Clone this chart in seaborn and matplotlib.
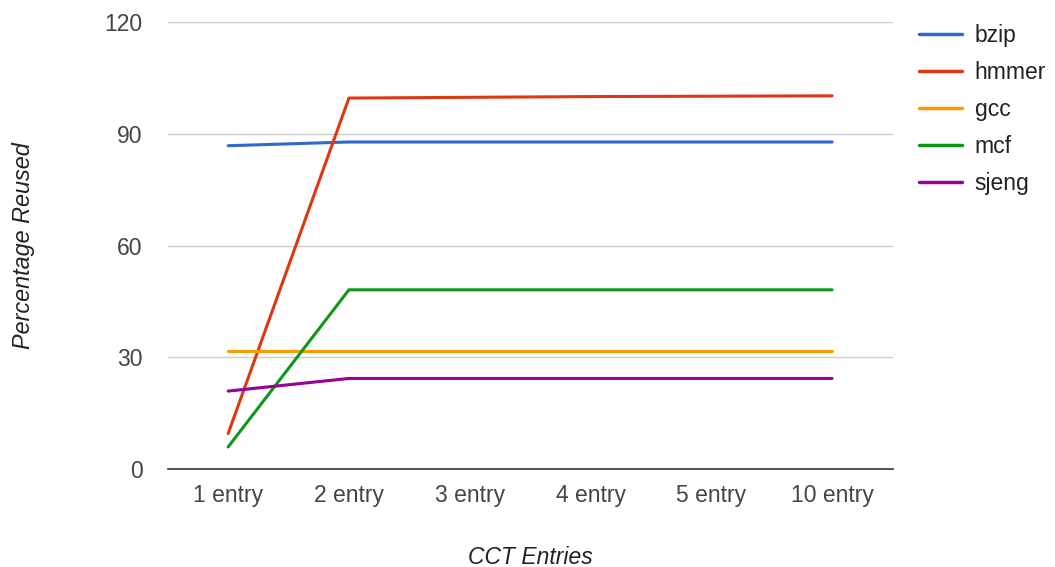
import matplotlib
matplotlib.use("Agg")
import matplotlib.pyplot as plt
from matplotlib.lines import Line2D
import seaborn as sns
import pandas as pd

entries = ["1 entry", "2 entry", "3 entry", "4 entry", "5 entry", "10 entry"]
bzip = [86.8, 87.8, 87.8, 87.8, 87.8, 87.8]
hmmer = [9.5, 99.6, 99.8, 100.0, 100.1, 100.2]
gcc = [31.7, 31.7, 31.7, 31.7, 31.7, 31.7]
mcf = [5.9, 48.1, 48.1, 48.1, 48.1, 48.1]
sjeng = [20.9, 24.3, 24.3, 24.3, 24.3, 24.3]

series = {"bzip": bzip, "hmmer": hmmer, "gcc": gcc, "mcf": mcf, "sjeng": sjeng}
colors = {"bzip": "#3366cc", "hmmer": "#dc3912", "gcc": "#ff9900",
          "mcf": "#109618", "sjeng": "#990099"}

rows = []
for name, vals in series.items():
    for e, v in zip(entries, vals):
        rows.append({"entry": e, "value": v, "benchmark": name})
df = pd.DataFrame(rows)

sns.set_style("white")
plt.rcParams["font.family"] = ["Liberation Sans", "DejaVu Sans"]

FS = 16.5

fig = plt.figure(figsize=(10.55, 5.67), dpi=100)
ax = fig.add_axes([0.159, 0.173, 0.687, 0.788])

sns.lineplot(data=df, x="entry", y="value", hue="benchmark", palette=colors,
             linewidth=2.2, sort=False, legend=False, ax=ax)

ax.set_xlim(-0.5, len(entries) - 0.5)
ax.set_ylim(0, 120)
ax.set_yticks([0, 30, 60, 90, 120])
ax.grid(axis="y", color="#cccccc", linewidth=1)
ax.grid(axis="x", visible=False)
ax.set_axisbelow(True)
for s in ["top", "right", "left"]:
    ax.spines[s].set_visible(False)
ax.spines["bottom"].set_color("#333333")
ax.spines["bottom"].set_linewidth(1.2)
ax.tick_params(axis="both", length=0, labelsize=FS, colors="#444444")
ax.tick_params(axis="y", pad=18)
ax.tick_params(axis="x", pad=11)

ax.set_xlabel("CCT Entries", fontsize=FS, style="italic", color="#222222", labelpad=28)
ax.set_ylabel("Percentage Reused", fontsize=16.8, style="italic", color="#222222", labelpad=50)

handles = [Line2D([0], [0], color=colors[n], linewidth=2.5) for n in series]
leg = fig.legend(handles, list(series.keys()), loc="upper left",
                 bbox_to_anchor=(0.862, 0.974), frameon=False, fontsize=FS,
                 handlelength=1.9, handletextpad=0.55, labelspacing=0.61,
                 borderaxespad=0, labelcolor="#222222")

fig.savefig("out.png", dpi=100)
